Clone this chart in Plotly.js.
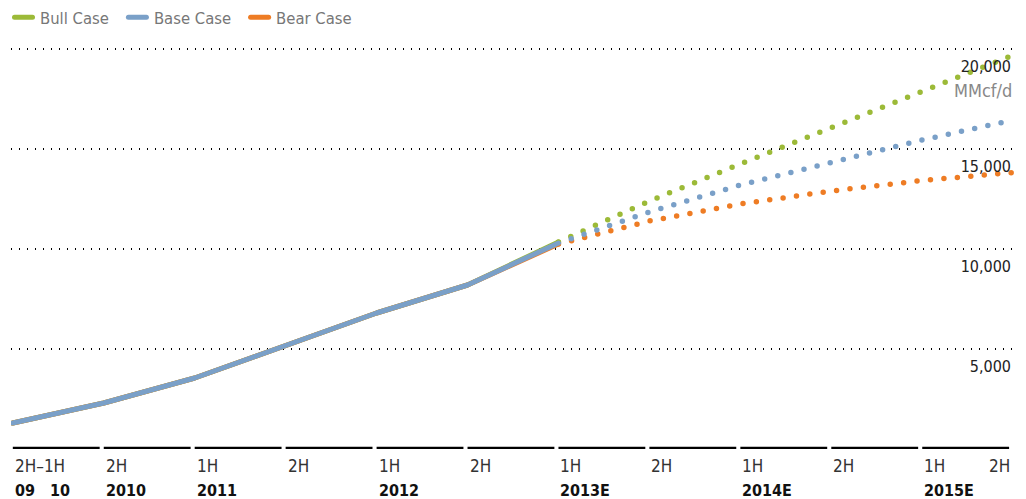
<!DOCTYPE html>
<html>
<head>
<meta charset="utf-8">
<script src="https://cdn.plot.ly/plotly-3.0.1.min.js"></script>
<style>
  html, body { margin: 0; padding: 0; background: #fff; }
  #chart { width: 1026px; height: 499px; }
  .scatterlayer .js-line { stroke-linecap: round; stroke-linejoin: round; }
  .legendlines path {
    stroke-linecap: round;
    stroke-dasharray: 18px 200px !important;
    stroke-dashoffset: -9.5px;
  }
</style>
</head>
<body>
<div id="chart"></div>
<script>
// ---- data ----
const periods = ["2H\u20131H", "2H", "1H", "2H", "1H", "2H", "1H", "2H", "1H", "2H", "1H", "2H"];
const years   = ["09\u00a0\u00a0\u00a010", "2010", "2011", "", "2012", "", "2013E", "", "2014E", "", "2015E", ""];
const lastActual = 6; // index of last reported half-year (start of estimates)

const bullCase = [1300, 2300, 3550, 5150, 6800, 8200, 10350, 12400, 14250, 16050, 17850, 19700];
const baseCase = [1300, 2300, 3550, 5150, 6800, 8200, 10300, 11850, 13200, 14350, 15450, 16450];
const bearCase = [1300, 2300, 3550, 5150, 6800, 8200, 10250, 11400, 12250, 12900, 13425, 13825];

const yTicks = [5000, 10000, 15000, 20000];
const unitLabel = "MMcf/d";

const seriesNames  = ["Bull Case", "Base Case", "Bear Case"];
const seriesColors = ["#9cba38", "#7aa0c8", "#ee7c24"];

// ---- build ----
const FONT = "'Liberation Sans Narrow', 'DejaVu Sans Condensed', 'Roboto Condensed', Arial, sans-serif";
const xIdx = periods.map((_, i) => i);
const seriesVals = [bullCase, baseCase, bearCase];

const traces = [];
// dotted estimates first (below)
[0, 2, 1].forEach(k => {
  traces.push({
    type: "scatter", mode: "lines",
    x: xIdx.slice(lastActual), y: seriesVals[k].slice(lastActual),
    line: { color: seriesColors[k], width: 5.5, dash: "0px,13.5px" },
    showlegend: false, hoverinfo: "skip", name: seriesNames[k] + " est."
  });
});
// solid history (base drawn last, on top)
[0, 2, 1].forEach(k => {
  traces.push({
    type: "scatter", mode: "lines",
    x: xIdx.slice(0, lastActual + 1), y: seriesVals[k].slice(0, lastActual + 1),
    line: { color: seriesColors[k], width: 5 },
    name: seriesNames[k], legendrank: k + 1, showlegend: true
  });
});

const shapes = xIdx.slice(0, -1).map(i => ({
  type: "line", xref: "x", yref: "y",
  x0: i, x1: i + 0.955, y0: 25, y1: 25,
  line: { color: "#000", width: 3.5 }, layer: "above"
}));

const annotations = [];
periods.forEach((p, i) => {
  const last = i === periods.length - 1;
  annotations.push({
    x: i, y: 0, xref: "x", yref: "paper", text: p, showarrow: false,
    xanchor: last ? "right" : "left", yanchor: "middle", yshift: -17, xshift: last ? -1 : 0,
    font: { family: FONT, size: 17, color: "#333" }
  });
  if (years[i]) {
    annotations.push({
      x: i, y: 0, xref: "x", yref: "paper", text: "<b>" + years[i] + "</b>", showarrow: false,
      xanchor: "left", yanchor: "middle", yshift: -41,
      font: { family: FONT, size: 16, color: "#111" }
    });
  }
});
annotations.push({
  x: 1, y: yTicks[yTicks.length - 1], xref: "paper", yref: "y", text: unitLabel, showarrow: false,
  xanchor: "right", yanchor: "middle", yshift: -41, xshift: -1,
  font: { family: FONT, size: 18, color: "#888" }
});

const layout = {
  width: 1026, height: 499,
  margin: { l: 11, r: 11, t: 29, b: 50, autoexpand: false },
  paper_bgcolor: "#fff", plot_bgcolor: "#fff",
  font: { family: FONT, size: 17, color: "#222" },
  showlegend: true,
  legend: {
    orientation: "h", xref: "container", yref: "container",
    x: 0, y: 1, xanchor: "left", yanchor: "top",
    font: { family: FONT, size: 16.5, color: "#777" },
    traceorder: "normal", itemwidth: 30
  },
  xaxis: {
    range: [-0.02, 11.02], showgrid: false, zeroline: false, showline: false,
    showticklabels: false, ticks: "", fixedrange: true
  },
  yaxis: {
    range: [0, 21000], side: "right", tickvals: yTicks,
    tickformat: ",d", ticklabelposition: "inside", ticklabelshift: 17, ticklabelstandoff: 1,
    showgrid: true, gridcolor: "#000", gridwidth: 1.2, griddash: "1.2px,6.8px",
    zeroline: false, showline: false, ticks: "",
    tickfont: { family: FONT, size: 16, color: "#222" }, fixedrange: true
  },
  shapes: shapes,
  annotations: annotations
};

Plotly.newPlot("chart", traces, layout, { displayModeBar: false, staticPlot: true });
</script>
</body>
</html>
